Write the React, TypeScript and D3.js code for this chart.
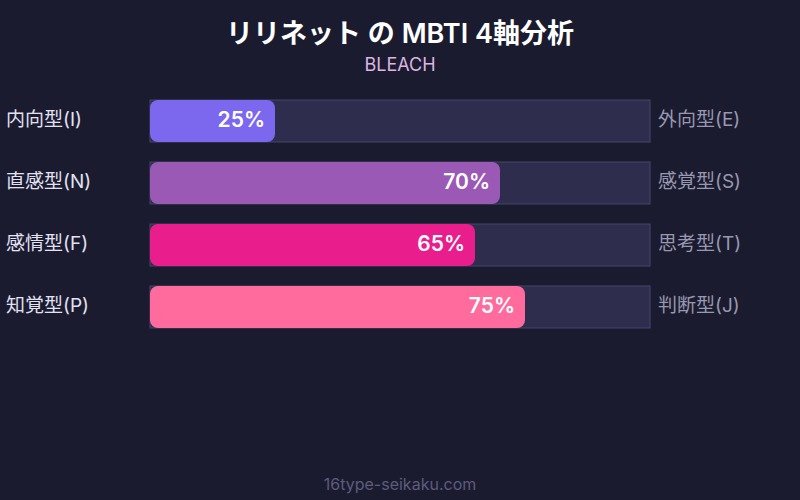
import React from "react";
import * as d3 from "d3";

const leftLabels = ["内向型(I)", "直感型(N)", "感情型(F)", "知覚型(P)"];
const rightLabels = ["外向型(E)", "感覚型(S)", "思考型(T)", "判断型(J)"];
const values = [25, 70, 65, 75];
const colors = ["#7b68ee", "#9b59b6", "#e91e8c", "#ff6b9d"];

const W = 800;
const H = 500;
const FONT = "Inter, 'Noto Sans CJK JP', sans-serif";

export default function App() {
  const x = d3.scaleLinear().domain([0, 100]).range([150, 650]);
  const bh = 42;
  const step = 62;
  return (
    <svg width={W} height={H} style={{ position: "absolute", left: 0, top: 0, background: "#1b1b2f" }} fontFamily={FONT}>
      <rect width={W} height={H} fill="#1b1b2f" />
      <text x={400} y={43} textAnchor="middle" fill="#ffffff" fontSize={27} fontWeight={600}>リリネット の MBTI 4軸分析</text>
      <text x={400} y={71} textAnchor="middle" fill="#dcb6e0" fontSize={18}>BLEACH</text>
      {values.map((v, i) => {
        const y0 = 100 + i * step;
        return (
          <g key={i}>
            <rect x={x(0)} y={y0} width={x(100) - x(0)} height={bh} fill="#2e2d4d" stroke="#46456a" strokeWidth={1} />
            <rect x={x(0)} y={y0} width={x(v) - x(0)} height={bh} rx={8} ry={8} fill={colors[i]} />
            <text x={x(v) - 10} y={y0 + bh / 2 - 1.5} dy="0.35em" textAnchor="end" fill="#ffffff" fontSize={21} fontWeight={600}>{v}%</text>
            <text x={6} y={y0 + bh / 2 - 1.5} dy="0.35em" fill="#e2e2f2" fontSize={19}>{leftLabels[i]}</text>
            <text x={658} y={y0 + bh / 2 - 1.5} dy="0.35em" fill="#9898b0" fontSize={19}>{rightLabels[i]}</text>
          </g>
        );
      })}
      <text x={400} y={490} textAnchor="middle" fill="#5c5c7c" fontSize={16}>16type-seikaku.com</text>
    </svg>
  );
}
